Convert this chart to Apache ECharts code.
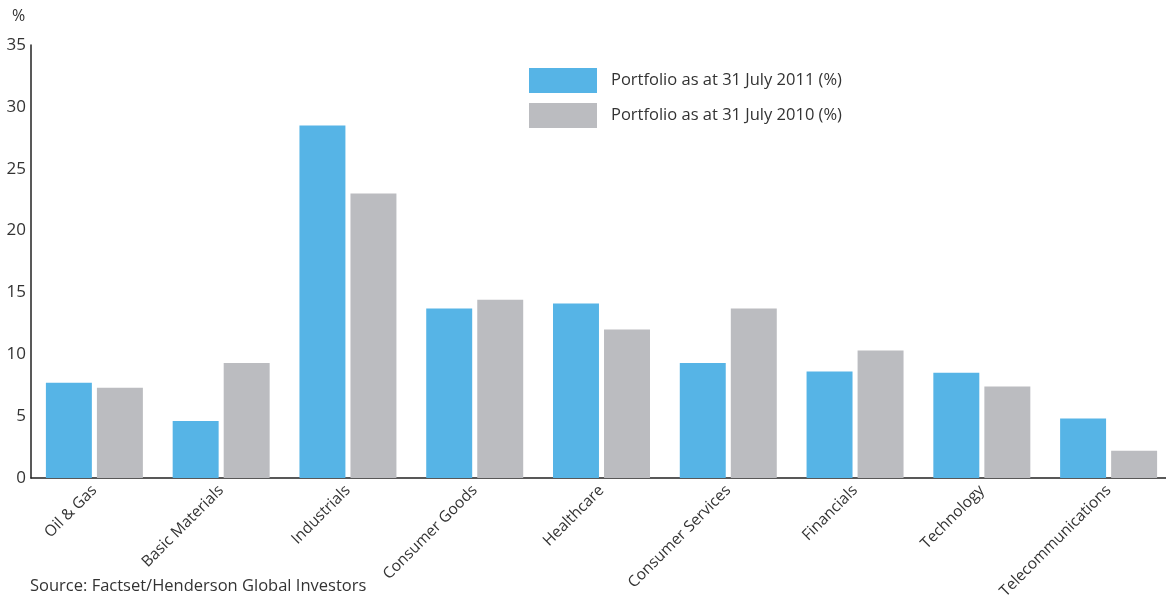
<!DOCTYPE html>
<html>
<head>
<meta charset="utf-8">
<script src="https://cdn.jsdelivr.net/npm/echarts@6/dist/echarts.min.js"></script>
<style>
  html, body { margin: 0; padding: 0; background: #fff; }
  #chart { width: 1166px; height: 598px; }
</style>
</head>
<body>
<div id="chart"></div>
<script>
// sectors and portfolio weights (%)
const categories = ['Oil & Gas', 'Basic Materials', 'Industrials', 'Consumer Goods', 'Healthcare',
  'Consumer Services', 'Financials', 'Technology', 'Telecommunications']
const weights2011 = [7.7, 4.6, 28.5, 13.7, 14.1, 9.3, 8.6, 8.5, 4.8]
const weights2010 = [7.3, 9.3, 23.0, 14.4, 12.0, 13.7, 10.3, 7.4, 2.2]
const seriesNames = ['Portfolio as at 31 July 2011 (%)', 'Portfolio as at 31 July 2010 (%)']

const font = '"Open Sans", "Noto Sans", sans-serif'
const chart = echarts.init(document.getElementById('chart'))
chart.setOption({
  animation: false,
  textStyle: { fontFamily: font },
  grid: { left: 31, right: -6, top: 45, bottom: 120, containLabel: false, outerBoundsMode: 'none' },
  legend: {
    orient: 'vertical',
    left: 529,
    top: 68,
    padding: 0,
    itemWidth: 68,
    itemHeight: 25,
    itemGap: 10,
    icon: 'rect',
    selectedMode: false,
    textStyle: { fontFamily: font, fontSize: 16.5, color: '#333', padding: [0, 0, 0, 9] },
    data: seriesNames
  },
  graphic: [
    {
      type: 'text', left: 30, top: 578,
      style: { text: 'Source: Factset/Henderson Global Investors', font: '16.5px ' + font, fill: '#333' }
    },
    {
      type: 'text', left: 12, top: 8,
      style: { text: '%', font: '16px ' + font, fill: '#333' }
    }
  ],
  xAxis: {
    type: 'category',
    data: categories,
    axisLine: { lineStyle: { color: '#222', width: 1.5 } },
    axisTick: { show: false },
    axisLabel: { rotate: 45, fontSize: 15.5, color: '#333', fontFamily: font, margin: 10, interval: 0 }
  },
  yAxis: {
    type: 'value',
    min: 0,
    max: 35,
    interval: 5,
    axisLine: { show: true, lineStyle: { color: '#222', width: 1.5 } },
    axisTick: { show: false },
    splitLine: { show: false },
    axisLabel: { fontSize: 17, color: '#333', fontFamily: font, margin: 5 }
  },
  series: [
    {
      name: seriesNames[0],
      type: 'bar',
      data: weights2011,
      itemStyle: { color: '#56B4E6' },
      barGap: '11%',
      barCategoryGap: '23.5%'
    },
    {
      name: seriesNames[1],
      type: 'bar',
      data: weights2010,
      itemStyle: { color: '#BBBCC0' }
    }
  ]
})
</script>
</body>
</html>
